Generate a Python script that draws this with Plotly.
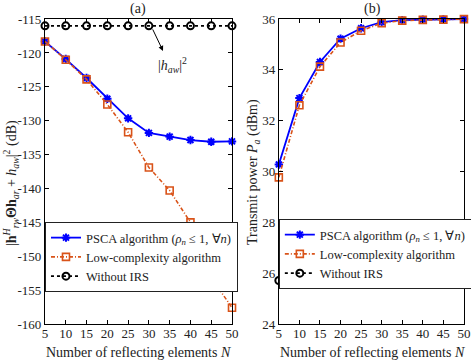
import plotly.graph_objects as go

# data
N = [5, 10, 15, 20, 25, 30, 35, 40, 45, 50]

gain_psca = [-118.3, -120.9, -123.7, -126.75, -129.65, -131.8, -132.35, -132.85, -133.1, -133.05]
gain_low = [-118.3, -121.0, -123.9, -127.6, -131.7, -136.9, -140.3, -145.0, -153.15, -157.6]
gain_no_irs = [-116.0] * 10

power_psca = [30.28, 32.89, 34.31, 35.23, 35.64, 35.88, 35.96, 35.98, 35.99, 36.0]
power_low = [29.77, 32.61, 34.13, 35.08, 35.54, 35.84, 35.94, 35.97, 35.98, 36.0]
power_no_irs = [25.71] * 10

x_ticks = [5, 10, 15, 20, 25, 30, 35, 40, 45, 50]
gain_ticks = [-115, -120, -125, -130, -135, -140, -145, -150, -155, -160]
power_ticks = [24, 26, 28, 30, 32, 34, 36]

series_names = ["PSCA algorithm (<i>ρ<sub>n</sub></i> ≤ 1, ∀<i>n</i>)",
                "Low-complexity algorithm", "Without IRS"]

FONT = "Liberation Serif, Times New Roman, serif"
BLUE = "#0000ff"
ORANGE = "#D95319"

fig = go.Figure()


def add_series(y, xa, ya, legend):
    psca, low, none = y
    fig.add_trace(go.Scatter(
        x=N, y=psca, xaxis=xa, yaxis=ya, legend=legend,
        name=series_names[0], mode="lines+markers", cliponaxis=False,
        line=dict(color=BLUE, width=1.8),
        marker=dict(symbol="asterisk", size=7, color=BLUE, line=dict(color=BLUE, width=2))
    ))
    fig.add_trace(go.Scatter(
        x=N, y=low, xaxis=xa, yaxis=ya, legend=legend,
        name=series_names[1], mode="lines+markers", cliponaxis=False,
        line=dict(color=ORANGE, width=1.6, dash="4px,2px,1px,2px"),
        marker=dict(symbol="square-open", size=7, color=ORANGE, line=dict(color=ORANGE, width=1.6))
    ))
    fig.add_trace(go.Scatter(
        x=N, y=none, xaxis=xa, yaxis=ya, legend=legend,
        name=series_names[2], mode="lines+markers", cliponaxis=False,
        line=dict(color="black", width=1.6, dash="dot"),
        marker=dict(symbol="circle-open", size=7, color="black", line=dict(color="black", width=2))
    ))


add_series((gain_psca, gain_low, gain_no_irs), "x", "y", "legend")
add_series((power_psca, power_low, power_no_irs), "x2", "y2", "legend2")

axis_common = dict(
    showline=True, linecolor="black", linewidth=1, mirror="ticks", automargin=False,
    ticks="inside", ticklen=4, tickcolor="black", showgrid=False, zeroline=False,
    tickfont=dict(family=FONT, size=13, color="#222"),
)
title_font = dict(family=FONT, size=14, color="#222")
legend_common = dict(xanchor="left", yanchor="top", bgcolor="white", bordercolor="#222",
                     borderwidth=1, font=dict(family=FONT, size=12.5, color="#222"),
                     tracegroupgap=0, itemwidth=30)


def label(text, x, y, angle=0):
    return dict(text=text, x=x / 471, y=1 - y / 360, xref="paper", yref="paper",
                xanchor="center", yanchor="middle", textangle=angle,
                showarrow=False, font=title_font)


fig.update_layout(
    width=471, height=360,
    margin=dict(l=0, r=0, t=0, b=0, autoexpand=False),
    plot_bgcolor="white", paper_bgcolor="white",
    font=dict(family=FONT, size=13, color="#222"),
    xaxis=dict(domain=[0.0955, 0.4926], range=[5, 50], tickvals=x_ticks, anchor="y",
               ticklabelstandoff=-3, **axis_common),
    yaxis=dict(domain=[0.1, 0.947], range=[-160, -115], tickvals=gain_ticks,
               ticktext=[str(v) for v in gain_ticks], anchor="x", **axis_common),
    xaxis2=dict(domain=[0.592, 0.985], range=[5, 50], tickvals=x_ticks, anchor="y2",
                ticklabelstandoff=-3, **axis_common),
    yaxis2=dict(domain=[0.1, 0.947], range=[24, 36], tickvals=power_ticks, anchor="x2", **axis_common),
    legend=dict(x=0.0955, y=1 - 222 / 360, entrywidth=183, **legend_common),
    legend2=dict(x=0.592, y=1 - 219 / 360, entrywidth=181, **legend_common),
    annotations=[
        label("(a)", 138, 9),
        label("(b)", 372, 9),
        label("Number of reflecting elements <i>N</i>", 138, 352),
        label("Number of reflecting elements <i>N</i>", 372, 352),
        label("|<b>h</b><sup><i>H</i></sup><sub><i>rw</i></sub><b>Θh</b><sub><i>ar</i></sub>"
              " + <i>h</i><sub><i>aw</i></sub>|<sup>2</sup> (dB)", 11, 183, -90),
        label("Transmit power <i>P<sub>a</sub></i> (dBm)", 253, 172, -90),
        dict(text="|<i>h<sub>aw</sub></i>|<sup>2</sup>", x=35.8, y=-121.8, xref="x", yref="y",
             showarrow=False, font=title_font),
        dict(x=33.4, y=-119.7, ax=30.75, ay=-116.3, xref="x", yref="y", axref="x", ayref="y",
             text="", showarrow=True, arrowhead=2, arrowsize=1, arrowwidth=1, arrowcolor="black"),
    ],
)

# the page body has a default 8px margin; remove it so the figure sits at the window origin
fig.write_html("out.html", config={"displayModeBar": False},
               post_script="document.body.style.margin = '0';")
